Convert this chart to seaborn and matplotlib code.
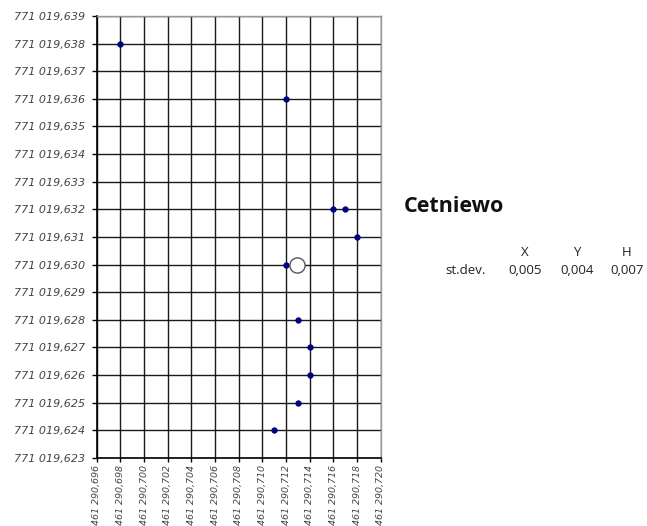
import matplotlib
matplotlib.use("Agg")
import matplotlib.pyplot as plt
import seaborn as sns
import pandas as pd

# Measured positions (easting X, northing Y)
x_vals = [461290.698, 461290.712, 461290.716, 461290.717, 461290.718, 461290.712,
          461290.713, 461290.714, 461290.714, 461290.713, 461290.711]
y_vals = [771019.638, 771019.636, 771019.632, 771019.632, 771019.631, 771019.630,
          771019.628, 771019.627, 771019.626, 771019.625, 771019.624]

# Mean position
mean_x = [461290.7129]
mean_y = [771019.6300]

# Axis ticks and labels
x_ticks = [461290.696 + 0.002 * i for i in range(13)]
x_labels = ["461 290,696", "461 290,698", "461 290,700", "461 290,702", "461 290,704",
            "461 290,706", "461 290,708", "461 290,710", "461 290,712", "461 290,714",
            "461 290,716", "461 290,718", "461 290,720"]
y_ticks = [771019.623 + 0.001 * i for i in range(17)]
y_labels = ["771 019,623", "771 019,624", "771 019,625", "771 019,626", "771 019,627",
            "771 019,628", "771 019,629", "771 019,630", "771 019,631", "771 019,632",
            "771 019,633", "771 019,634", "771 019,635", "771 019,636", "771 019,637",
            "771 019,638", "771 019,639"]

# Station summary
station = "Cetniewo"
stat_cols = ["X", "Y", "H"]
stat_vals = ["0,005", "0,004", "0,007"]

sns.set_style("white")
plt.rcParams["font.family"] = ["DejaVu Sans"]

fig = plt.figure(figsize=(6.47, 5.26), dpi=100)
ax = fig.add_axes([0.1495, 0.1293, 0.4389, 0.8403])

df = pd.DataFrame({"x": x_vals, "y": y_vals})
sns.scatterplot(data=df, x="x", y="y", ax=ax, s=16, color="#000080",
                edgecolor="#000080", linewidth=0.5, zorder=4)
ax.scatter(mean_x, mean_y, s=120, facecolor="white", edgecolor="#555555",
           linewidth=1.0, zorder=5)

ax.set_xlim(x_ticks[0], x_ticks[-1])
ax.set_ylim(y_ticks[0], y_ticks[-1])
ax.set_xticks(x_ticks)
ax.set_xticklabels(x_labels, rotation=90, fontsize=6.8, style="italic", color="#444444")
ax.set_yticks(y_ticks)
ax.set_yticklabels(y_labels, fontsize=8, style="italic", color="#444444")
ax.set_xlabel("")
ax.set_ylabel("")

ax.grid(True, color="#1a1a1a", linewidth=1.0, zorder=1)
ax.set_axisbelow(True)
for side in ["left", "bottom"]:
    ax.spines[side].set_color("#000000")
    ax.spines[side].set_linewidth(1.2)
for side in ["top", "right"]:
    ax.spines[side].set_color("#999999")
    ax.spines[side].set_linewidth(1.0)

ax.tick_params(axis="y", which="major", direction="out", length=3.6, width=1,
               color="#000000", pad=5, left=True)
ax.tick_params(axis="x", which="major", direction="out", length=3, width=1,
               color="#000000", pad=2, bottom=True)

# Station name and standard deviations
txt_font = ["Open Sans", "DejaVu Sans"]
fig.text(404 / 647, 1 - 207 / 526, station, fontsize=15.5, fontweight="bold",
         family=txt_font, va="center", ha="left", color="#111111")
col_x = [525, 577, 627]
for cx, lab, val in zip(col_x, stat_cols, stat_vals):
    fig.text(cx / 647, 1 - 253 / 526, lab, fontsize=9.5, ha="center", va="center",
             family=txt_font, color="#222222")
    fig.text(cx / 647, 1 - 271 / 526, val, fontsize=9.5, ha="center", va="center",
             family=txt_font, color="#222222")
fig.text(445 / 647, 1 - 271 / 526, "st.dev.", fontsize=9.5, ha="left", va="center",
         family=txt_font, color="#222222")

fig.savefig("out.png", dpi=100)
